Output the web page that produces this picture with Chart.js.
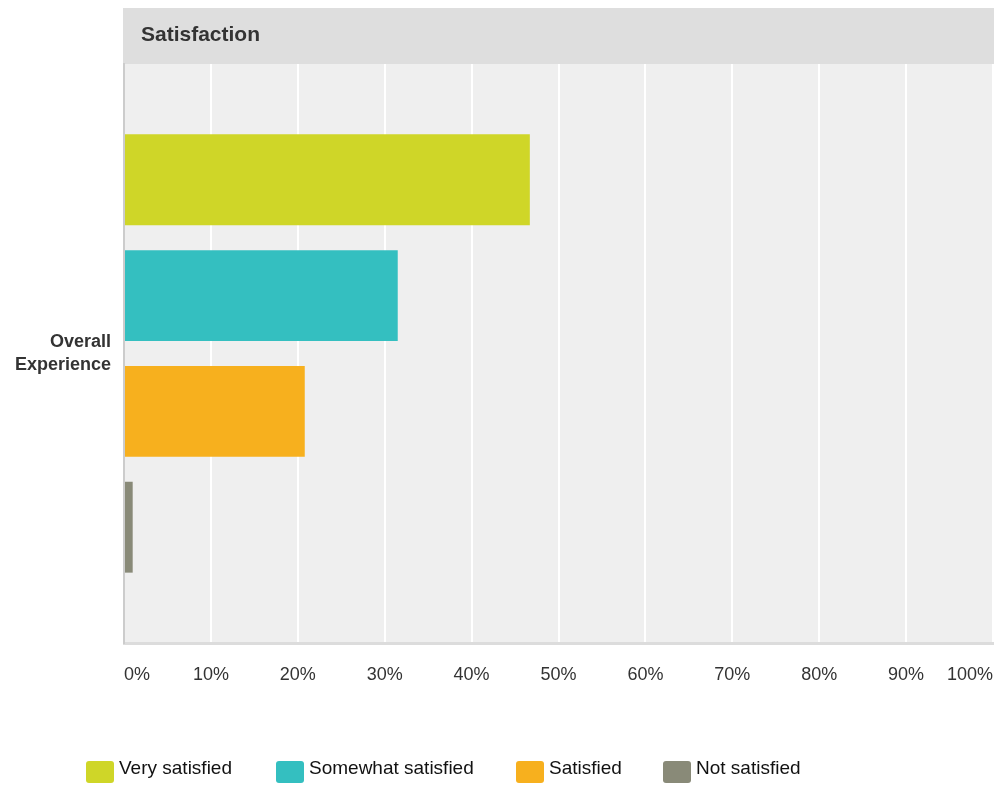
<!DOCTYPE html>
<html>
<head>
<meta charset="utf-8">
<script src="https://cdn.jsdelivr.net/npm/chart.js@4.4.1/dist/chart.umd.min.js"></script>
<style>
  html, body { margin: 0; padding: 0; background: #ffffff; }
  #wrap { width: 997px; height: 785px; position: relative; }
  #legend { position: absolute; left: 0; top: 761px; height: 22px; font-family: 'Liberation Sans', Arial, Helvetica, sans-serif; font-size: 19px; color: #111; }
  .item { position: absolute; top: 0; white-space: nowrap; line-height: 22px; height: 22px; }
  .box { position: absolute; left: 0; top: 0; width: 28px; height: 22px; border-radius: 3px; }
  .txt { position: absolute; top: -4px; }
</style>
</head>
<body>
<div id="wrap"><canvas id="c"></canvas><div id="legend"></div></div>
<script>
// ---- data ----
const chartTitle = 'Satisfaction';
const categories = [['Overall', 'Experience']];
const seriesNames = ['Very satisfied', 'Somewhat satisfied', 'Satisfied', 'Not satisfied'];
const verySatisfied = [46.7];
const somewhatSatisfied = [31.5];
const satisfied = [20.8];
const notSatisfied = [1.0];
const seriesColors = ['#cfd628', '#34bfc0', '#f7b01e', '#898a78'];
const xTickMin = 0, xTickMax = 100, xTickStep = 10;

const seriesValues = [verySatisfied, somewhatSatisfied, satisfied, notSatisfied];
const FONT = "'Liberation Sans', Arial, Helvetica, sans-serif";

const backgroundPlugin = {
  id: 'bgHeader',
  beforeDraw(chart) {
    const {ctx, chartArea} = chart;
    const right = chartArea.right + 1;
    ctx.save();
    ctx.fillStyle = '#efefef';
    ctx.fillRect(chartArea.left, chartArea.top, right - chartArea.left, chartArea.bottom - chartArea.top);
    ctx.fillStyle = '#dedede';
    ctx.fillRect(chartArea.left - 1, 8, right - chartArea.left + 1, chartArea.top - 8);
    ctx.fillStyle = '#333333';
    ctx.font = 'bold 21px ' + FONT;
    ctx.textAlign = 'left';
    ctx.textBaseline = 'middle';
    ctx.fillText(chartTitle, chartArea.left + 17, 35);
    ctx.restore();
  }
};

const datasets = seriesNames.map((name, i) => ({
  label: name,
  data: seriesValues[i],
  backgroundColor: seriesColors[i],
  borderWidth: 0,
  categoryPercentage: 0.8,
  barPercentage: 0.785
}));

const chart = new Chart(document.getElementById('c'), {
  type: 'bar',
  data: { labels: categories, datasets },
  plugins: [backgroundPlugin],
  options: {
    indexAxis: 'y',
    responsive: true,
    maintainAspectRatio: false,
    animation: false,
    devicePixelRatio: 1,
    layout: { padding: { top: 64, right: 4, left: 0, bottom: 0 } },
    plugins: {
      title: { display: false },
      tooltip: { enabled: false },
      legend: { display: false }
    },
    scales: {
      x: {
        type: 'linear',
        position: 'bottom',
        min: xTickMin,
        max: xTickMax,
        afterFit(scale) { scale.height = 142; scale.paddingLeft = 0; scale.paddingRight = 0; },
        grid: { color: '#ffffff', lineWidth: 2, drawTicks: false },
        border: { display: true, color: '#dcdcdc', width: 3 },
        ticks: {
          stepSize: xTickStep,
          align: 'inner',
          padding: 21,
          color: '#333333',
          font: { family: FONT, size: 18 },
          callback: (v) => v + '%'
        }
      },
      y: {
        type: 'category',
        afterFit(scale) { scale.width = 124; scale.paddingTop = 0; scale.paddingBottom = 0; },
        grid: { display: false, drawTicks: false },
        border: { display: true, color: '#cccccc', width: 2 },
        ticks: {
          padding: 13,
          color: '#333333',
          font: { family: FONT, size: 18, weight: 'bold', lineHeight: 1.28 }
        }
      }
    }
  }
});

// legend (HTML) built from the dataset names/colours
const legendLefts = [86, 276, 516, 663];
const legendTextOffset = 33;
const legendEl = document.getElementById('legend');
chart.data.datasets.forEach((ds, i) => {
  const item = document.createElement('div');
  item.className = 'item';
  item.style.left = legendLefts[i] + 'px';
  const box = document.createElement('div');
  box.className = 'box';
  box.style.background = ds.backgroundColor;
  const txt = document.createElement('span');
  txt.className = 'txt';
  txt.style.left = legendTextOffset + 'px';
  txt.textContent = ds.label;
  item.appendChild(box);
  item.appendChild(txt);
  legendEl.appendChild(item);
});
</script>
</body>
</html>
